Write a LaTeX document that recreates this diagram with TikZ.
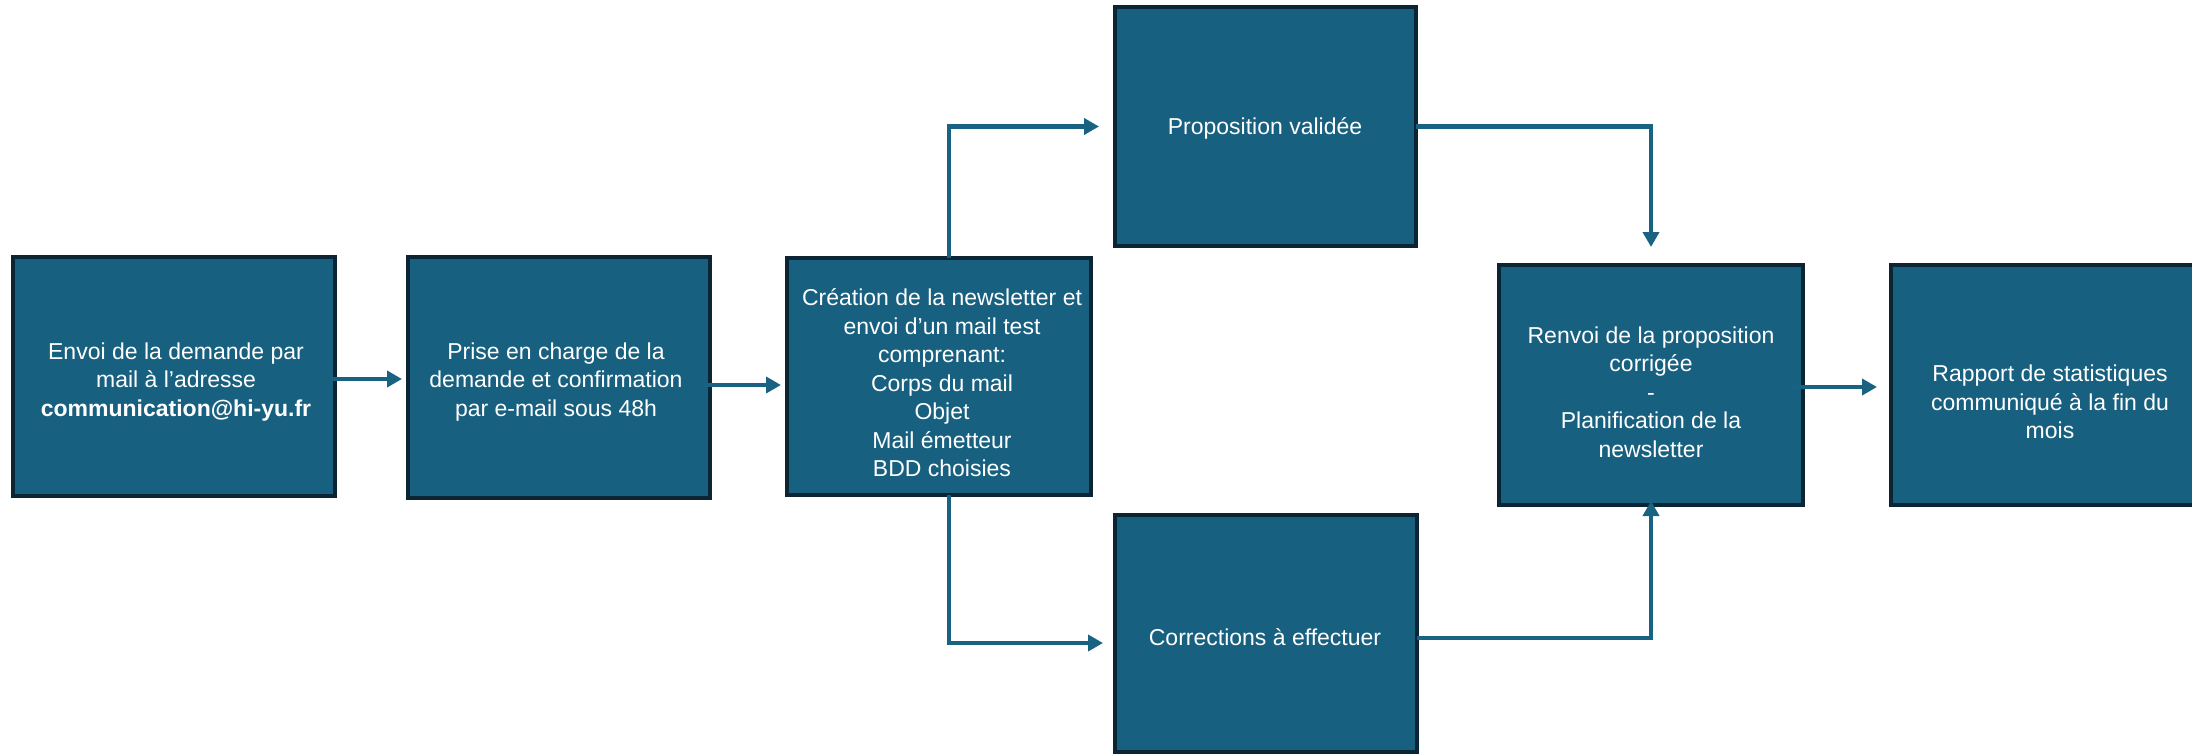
\documentclass[tikz,border=0pt]{standalone}
\usepackage{fontspec}
\setmainfont{Liberation Sans}
\usetikzlibrary{arrows.meta}
\definecolor{boxfill}{RGB}{24,96,128}
\definecolor{boxline}{RGB}{12,37,52}
\definecolor{arrowcol}{RGB}{25,98,130}
\tikzset{
  stepbox/.style={draw=boxline, fill=boxfill, line width=4pt, inner sep=0pt, outer sep=0pt, rectangle},
  boxtext/.style={text=white, align=center, inner sep=0pt, font=\fontsize{23}{28.5}\selectfont},
  arr/.style={draw=arrowcol, line width=4.5pt, -{Triangle[length=15pt,width=16pt]}}
}
\begin{document}
\begin{tikzpicture}[x=1pt,y=-1pt]
\useasboundingbox (0,0) rectangle (2192,755);
% boxes
\node[stepbox, minimum width=322pt, minimum height=239pt] (b1) at (174,376.5) {};
\node[stepbox, minimum width=302pt, minimum height=241pt] (b2) at (559,377.5) {};
\node[stepbox, minimum width=304pt, minimum height=237pt] (b3) at (939,376.5) {};
\node[stepbox, minimum width=301pt, minimum height=239pt] (b4) at (1265.5,126.5) {};
\node[stepbox, minimum width=302pt, minimum height=237pt] (b5) at (1266,633.5) {};
\node[stepbox, minimum width=304pt, minimum height=240pt] (b6) at (1651,385) {};
\node[stepbox, minimum width=304pt, minimum height=240pt] (b7) at (2043,385) {};
% texts
\node[boxtext] (t1) at (176,382) {Envoi de la demande par\\mail à l’adresse\\{\bfseries communication@hi-yu.fr}};
\node[boxtext] (t2) at (556,382) {Prise en charge de la\\demande et confirmation\\par e-mail sous 48h};
\node[boxtext] (t3) at (942,383) {Création de la newsletter et\\envoi d’un mail test\\comprenant:\\Corps du mail\\Objet\\Mail émetteur\\BDD choisies};
\node[boxtext] (t4) at (1265,128) {Proposition validée};
\node[boxtext] (t5) at (1265,637) {Corrections à effectuer};
\node[boxtext] (t6) at (1651,392) {Renvoi de la proposition\\corrigée\\-\\Planification de la\\newsletter};
\node[boxtext] (t7) at (2050,402) {Rapport de statistiques\\communiqué à la fin du\\mois};
% connectors
\draw[arr, shorten <=-4pt, shorten >=6pt] ([yshift=-2.5pt]b1.east) -- ([yshift=-2.5pt]b1.east -| b2.west);
\draw[arr, shorten <=-7pt, shorten >=6pt] ([yshift=-7.5pt]b2.east) -- ([yshift=-7.5pt]b2.east -| b3.west);
\draw[arr, shorten >=16pt] ([xshift=10pt]b3.north) |- (b4.west);
\draw[arr, shorten >=18pt] (b4.east) -| (b6.north);
\draw[arr, shorten >=12pt] ([xshift=10pt]b3.south) |- ([yshift=-9.5pt]b5.west);
\draw[arr, shorten >=-4pt] ([yshift=-4.5pt]b5.east) -| (b6.south);
\draw[arr, shorten <=-10pt, shorten >=14pt] ([yshift=-2pt]b6.east) -- ([yshift=-2pt]b6.east -| b7.west);
\end{tikzpicture}
\end{document}
